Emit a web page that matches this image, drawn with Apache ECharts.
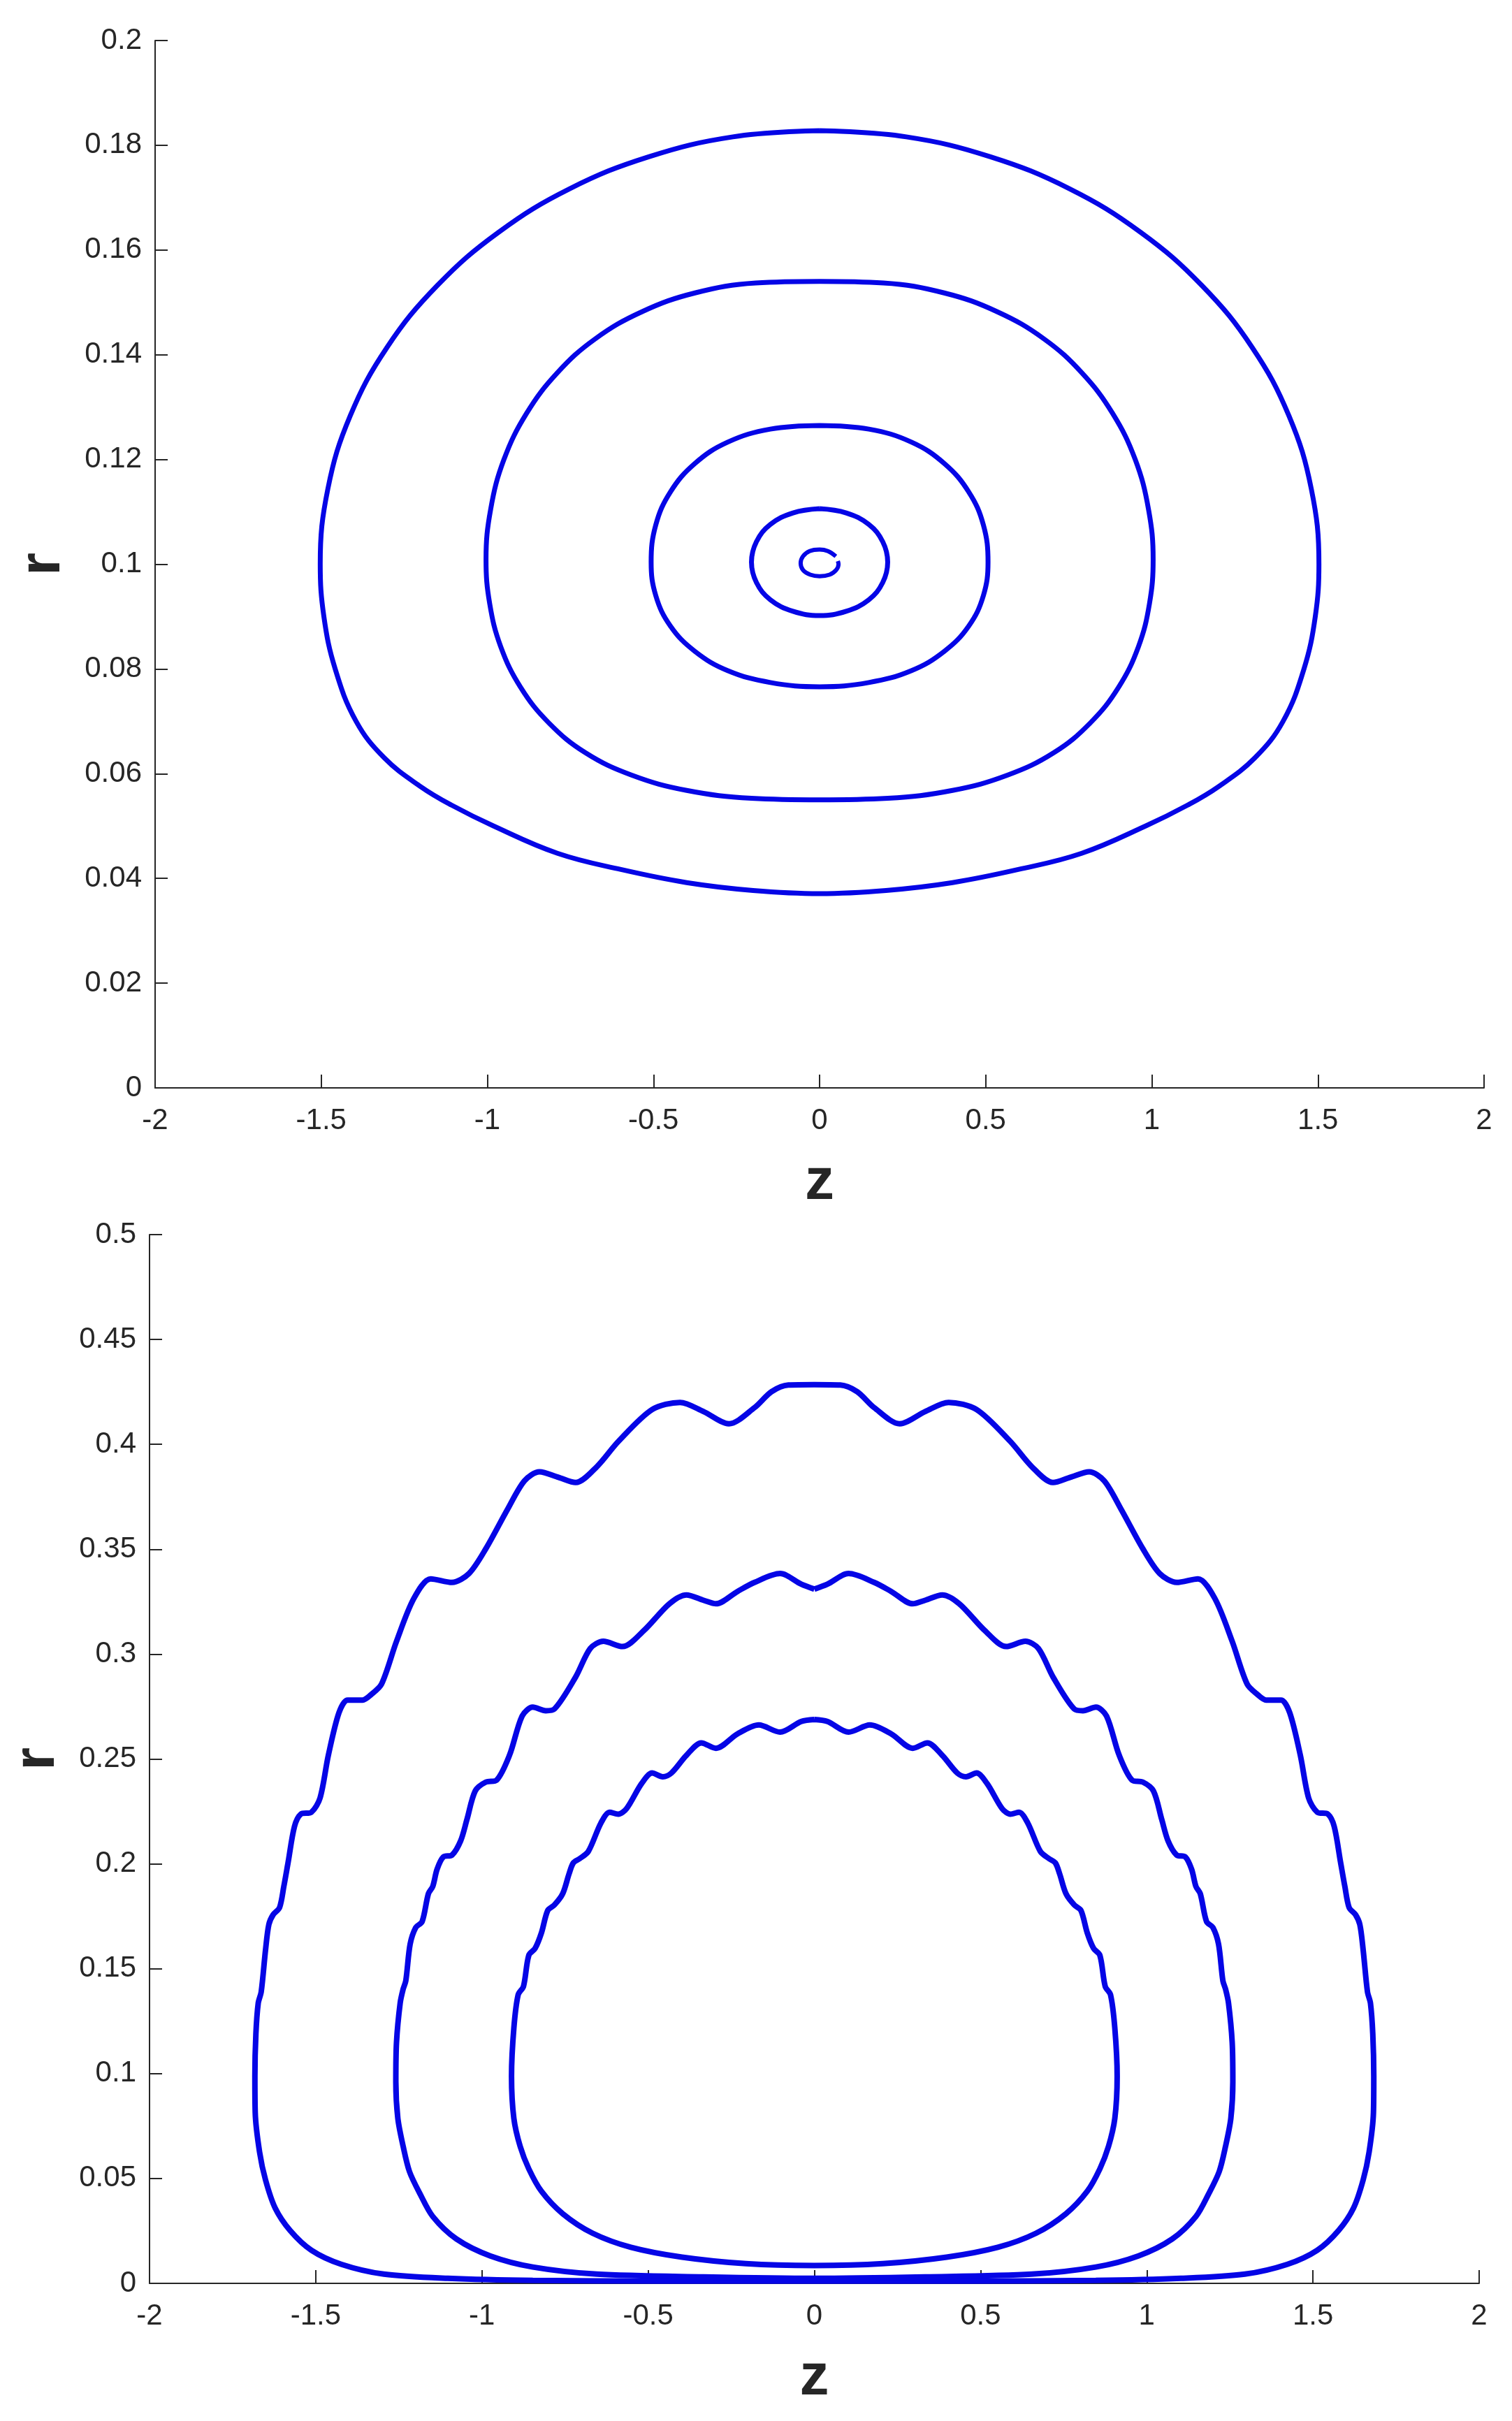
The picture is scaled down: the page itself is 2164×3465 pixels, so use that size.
<!DOCTYPE html>
<html>
<head>
<meta charset="utf-8">
<script src="https://cdn.jsdelivr.net/npm/echarts@6/dist/echarts.min.js"></script>
<style>
html,body{margin:0;padding:0;background:#fff;}
#chart{width:2164px;height:3465px;}
</style>
</head>
<body>
<div id="chart"></div>
<script>
// ---------- tick values ----------
const zTicks = [-2, -1.5, -1, -0.5, 0, 0.5, 1, 1.5, 2];
const rTicksTop = [0, 0.02, 0.04, 0.06, 0.08, 0.1, 0.12, 0.14, 0.16, 0.18, 0.2];
const rTicksBottom = [0, 0.05, 0.1, 0.15, 0.2, 0.25, 0.3, 0.35, 0.4, 0.45, 0.5];

// ---------- top panel: closed orbits [z, r] ----------
const topOrbit1 = [
  [0, 0.1828], [-0.261, 0.1816], [-0.514, 0.1778], [-0.752, 0.1717], [-0.966, 0.1634], [-1.151, 0.1532],
  [-1.302, 0.1414], [-1.413, 0.1283], [-1.480, 0.1144], [-1.503, 0.1000], [-1.492, 0.0900], [-1.458, 0.0800],
  [-1.395, 0.0700], [-1.310, 0.0630], [-1.200, 0.0575], [-1.108, 0.0540], [-0.981, 0.0500], [-0.789, 0.0448],
  [-0.598, 0.0417], [-0.400, 0.0392], [-0.200, 0.0377], [0, 0.0371],
  [0.200, 0.0377], [0.400, 0.0392], [0.598, 0.0417], [0.789, 0.0448], [0.981, 0.0500], [1.108, 0.0540],
  [1.200, 0.0575], [1.310, 0.0630], [1.395, 0.0700], [1.458, 0.0800], [1.492, 0.0900], [1.503, 0.1000],
  [1.480, 0.1144], [1.413, 0.1283], [1.302, 0.1414], [1.151, 0.1532], [0.966, 0.1634], [0.752, 0.1717],
  [0.514, 0.1778], [0.261, 0.1816], [0, 0.1828]
];
const topOrbit2 = [
  [0, 0.1540], [-0.192, 0.1537], [-0.375, 0.1518], [-0.535, 0.1482], [-0.676, 0.1430], [-0.790, 0.1365],
  [-0.882, 0.1288], [-0.950, 0.1200], [-0.990, 0.1105], [-1.004, 0.1009], [-0.993, 0.0925], [-0.960, 0.0843],
  [-0.900, 0.0765], [-0.815, 0.0697], [-0.705, 0.0640], [-0.565, 0.0597], [-0.400, 0.0568], [-0.205, 0.0553],
  [0, 0.0550],
  [0.205, 0.0553], [0.400, 0.0568], [0.565, 0.0597], [0.705, 0.0640], [0.815, 0.0697], [0.900, 0.0765],
  [0.960, 0.0843], [0.993, 0.0925], [1.004, 0.1009], [0.990, 0.1105], [0.950, 0.1200], [0.882, 0.1288],
  [0.790, 0.1365], [0.676, 0.1430], [0.535, 0.1482], [0.375, 0.1518], [0.192, 0.1537], [0, 0.1540]
];
const topOrbit3 = [
  [0, 0.1265], [-0.148, 0.1258], [-0.277, 0.1233], [-0.376, 0.1192], [-0.449, 0.1138], [-0.493, 0.1075],
  [-0.507, 0.1004], [-0.493, 0.0940], [-0.449, 0.0882], [-0.376, 0.0834], [-0.277, 0.0797], [-0.148, 0.0774],
  [0, 0.0766],
  [0.148, 0.0774], [0.277, 0.0797], [0.376, 0.0834], [0.449, 0.0882], [0.493, 0.0940], [0.507, 0.1004],
  [0.493, 0.1075], [0.449, 0.1138], [0.376, 0.1192], [0.277, 0.1233], [0.148, 0.1258], [0, 0.1265]
];
const topOrbit4 = [
  [0, 0.1106], [-0.080, 0.1098], [-0.148, 0.1076], [-0.190, 0.1043], [-0.205, 0.1004], [-0.190, 0.0965],
  [-0.148, 0.0932], [-0.080, 0.0910], [0, 0.0902],
  [0.080, 0.0910], [0.148, 0.0932], [0.190, 0.0965], [0.205, 0.1004], [0.190, 0.1043], [0.148, 0.1076],
  [0.080, 0.1098], [0, 0.1106]
];
const topOrbit5 = [
  [0.049, 0.1015], [0.025, 0.1025], [0, 0.1028], [-0.030, 0.1025], [-0.050, 0.1015], [-0.057, 0.1002],
  [-0.050, 0.0989], [-0.028, 0.0980], [0, 0.0977], [0.030, 0.0980], [0.050, 0.0989], [0.057, 0.1000], [0.055, 0.1006]
];

// ---------- bottom panel: closed orbits [z, r] ----------
const botOrbit1 = [
  [0, 0.4285], [-0.078, 0.4283], [-0.129, 0.4251], [-0.18, 0.4175], [-0.257, 0.4098], [-0.334, 0.4157],
  [-0.404, 0.4200], [-0.488, 0.4166], [-0.59, 0.4013], [-0.654, 0.3894], [-0.718, 0.3818], [-0.77, 0.3843],
  [-0.827, 0.3869], [-0.872, 0.3826], [-0.923, 0.3690], [-0.988, 0.3503], [-1.039, 0.3384], [-1.09, 0.3342],
  [-1.154, 0.3359], [-1.205, 0.3265], [-1.257, 0.3061], [-1.302, 0.2857], [-1.334, 0.2806], [-1.359, 0.2781],
  [-1.404, 0.2781], [-1.43, 0.2721], [-1.462, 0.2518], [-1.487, 0.2314], [-1.513, 0.2246], [-1.545, 0.2237],
  [-1.564, 0.2178], [-1.583, 0.2008], [-1.596, 0.1892], [-1.609, 0.1791], [-1.628, 0.1758], [-1.641, 0.1711],
  [-1.651, 0.1590], [-1.664, 0.1390], [-1.673, 0.1336], [-1.680, 0.1189], [-1.683, 0.0988], [-1.682, 0.0814],
  [-1.669, 0.0627], [-1.651, 0.0493], [-1.622, 0.0359], [-1.577, 0.0252], [-1.513, 0.0158], [-1.423, 0.0091],
  [-1.295, 0.0044], [-1.103, 0.0024], [-0.847, 0.0014], [-0.462, 0.0011], [0, 0.0011],
  [0.462, 0.0011], [0.847, 0.0014], [1.103, 0.0024], [1.295, 0.0044], [1.423, 0.0091], [1.513, 0.0158],
  [1.577, 0.0252], [1.622, 0.0359], [1.651, 0.0493], [1.669, 0.0627], [1.682, 0.0814], [1.683, 0.0988],
  [1.680, 0.1189], [1.673, 0.1336], [1.664, 0.1390], [1.651, 0.1590], [1.641, 0.1711], [1.628, 0.1758],
  [1.609, 0.1791], [1.596, 0.1892], [1.583, 0.2008], [1.564, 0.2178], [1.545, 0.2237], [1.513, 0.2246],
  [1.487, 0.2314], [1.462, 0.2518], [1.43, 0.2721], [1.404, 0.2781], [1.359, 0.2781], [1.334, 0.2806],
  [1.302, 0.2857], [1.257, 0.3061], [1.205, 0.3265], [1.154, 0.3359], [1.09, 0.3342], [1.039, 0.3384],
  [0.988, 0.3503], [0.923, 0.3690], [0.872, 0.3826], [0.827, 0.3869], [0.77, 0.3843], [0.718, 0.3818],
  [0.654, 0.3894], [0.59, 0.4013], [0.488, 0.4166], [0.404, 0.4200], [0.334, 0.4157], [0.257, 0.4098],
  [0.18, 0.4175], [0.129, 0.4251], [0.078, 0.4283], [0, 0.4285]
];
const botOrbit2 = [
  [0, 0.3310], [-0.039, 0.3333], [-0.103, 0.3384], [-0.18, 0.3342], [-0.231, 0.3299], [-0.296, 0.3240],
  [-0.334, 0.3257], [-0.385, 0.3282], [-0.436, 0.3240], [-0.513, 0.3112], [-0.577, 0.3036], [-0.635, 0.3061],
  [-0.674, 0.3027], [-0.718, 0.2891], [-0.782, 0.2738], [-0.808, 0.2730], [-0.847, 0.2747], [-0.879, 0.2705],
  [-0.917, 0.2518], [-0.956, 0.2399], [-0.988, 0.2390], [-1.02, 0.2348], [-1.045, 0.2212], [-1.064, 0.2110],
  [-1.09, 0.2042], [-1.116, 0.2033], [-1.135, 0.1974], [-1.148, 0.1892], [-1.161, 0.1858], [-1.18, 0.1724],
  [-1.199, 0.1697], [-1.216, 0.1617], [-1.229, 0.1443], [-1.237, 0.1403], [-1.246, 0.1336], [-1.257, 0.1149],
  [-1.259, 0.0961], [-1.253, 0.0787], [-1.237, 0.0653], [-1.218, 0.0533], [-1.186, 0.0426], [-1.148, 0.0319],
  [-1.077, 0.0212], [-0.975, 0.0131], [-0.847, 0.0078], [-0.654, 0.0044], [-0.334, 0.0031], [0, 0.0024],
  [0.334, 0.0031], [0.654, 0.0044], [0.847, 0.0078], [0.975, 0.0131], [1.077, 0.0212], [1.148, 0.0319],
  [1.186, 0.0426], [1.218, 0.0533], [1.237, 0.0653], [1.253, 0.0787], [1.259, 0.0961], [1.257, 0.1149],
  [1.246, 0.1336], [1.237, 0.1403], [1.229, 0.1443], [1.216, 0.1617], [1.199, 0.1697], [1.18, 0.1724],
  [1.161, 0.1858], [1.148, 0.1892], [1.135, 0.1974], [1.116, 0.2033], [1.09, 0.2042], [1.064, 0.2110],
  [1.045, 0.2212], [1.02, 0.2348], [0.988, 0.2390], [0.956, 0.2399], [0.917, 0.2518], [0.879, 0.2705],
  [0.847, 0.2747], [0.808, 0.2730], [0.782, 0.2738], [0.718, 0.2891], [0.674, 0.3027], [0.635, 0.3061],
  [0.577, 0.3036], [0.513, 0.3112], [0.436, 0.3240], [0.385, 0.3282], [0.334, 0.3257], [0.296, 0.3240],
  [0.231, 0.3299], [0.18, 0.3342], [0.103, 0.3384], [0.039, 0.3333], [0, 0.3310]
];
const botOrbit3 = [
  [0, 0.2688], [-0.039, 0.2679], [-0.103, 0.2628], [-0.167, 0.2662], [-0.231, 0.2620], [-0.296, 0.2551],
  [-0.34, 0.2577], [-0.385, 0.2517], [-0.43, 0.2433], [-0.456, 0.2415], [-0.488, 0.2433], [-0.52, 0.2382],
  [-0.565, 0.2263], [-0.59, 0.2237], [-0.616, 0.2246], [-0.642, 0.2195], [-0.68, 0.2059], [-0.706, 0.2025],
  [-0.725, 0.2005], [-0.738, 0.1952], [-0.757, 0.1858], [-0.782, 0.1804], [-0.802, 0.1778], [-0.821, 0.1671],
  [-0.84, 0.1597], [-0.859, 0.1564], [-0.875, 0.1416], [-0.891, 0.1376], [-0.904, 0.1216], [-0.911, 0.0988],
  [-0.904, 0.0787], [-0.885, 0.0653], [-0.859, 0.0546], [-0.821, 0.0439], [-0.757, 0.0332], [-0.667, 0.0239],
  [-0.552, 0.0172], [-0.398, 0.0125], [-0.206, 0.0094], [0, 0.0085],
  [0.206, 0.0094], [0.398, 0.0125], [0.552, 0.0172], [0.667, 0.0239], [0.757, 0.0332], [0.821, 0.0439],
  [0.859, 0.0546], [0.885, 0.0653], [0.904, 0.0787], [0.911, 0.0988], [0.904, 0.1216], [0.891, 0.1376],
  [0.875, 0.1416], [0.859, 0.1564], [0.84, 0.1597], [0.821, 0.1671], [0.802, 0.1778], [0.782, 0.1804],
  [0.757, 0.1858], [0.738, 0.1952], [0.725, 0.2005], [0.706, 0.2025], [0.68, 0.2059], [0.642, 0.2195],
  [0.616, 0.2246], [0.59, 0.2237], [0.565, 0.2263], [0.52, 0.2382], [0.488, 0.2433], [0.456, 0.2415],
  [0.43, 0.2433], [0.385, 0.2517], [0.34, 0.2577], [0.296, 0.2551], [0.231, 0.2620], [0.167, 0.2662],
  [0.103, 0.2628], [0.039, 0.2679], [0, 0.2688]
];

const lineBlue = '#0505e6';
const axisColor = '#262626';
const fontFam = '"Liberation Sans", Arial, Helvetica, sans-serif';

function makeX(gridIndex) {
  return {
    type: 'value', gridIndex: gridIndex, min: zTicks[0], max: zTicks[zTicks.length - 1], interval: 0.5,
    name: 'z', nameLocation: 'middle', nameGap: 94,
    nameTextStyle: { fontSize: 84, fontWeight: 'bold', color: axisColor, fontFamily: fontFam },
    axisLine: { show: true, onZero: false, lineStyle: { color: axisColor, width: 2 } },
    axisTick: { show: true, inside: true, length: 19, lineStyle: { color: axisColor, width: 2 } },
    axisLabel: { fontSize: 42, color: axisColor, fontFamily: fontFam, margin: 26 },
    splitLine: { show: false }
  };
}
function makeY(gridIndex, ticks) {
  return {
    type: 'value', gridIndex: gridIndex, min: ticks[0], max: ticks[ticks.length - 1],
    interval: ticks[1] - ticks[0],
    name: 'r', nameLocation: 'middle', nameGap: 118, nameRotate: 90,
    nameTextStyle: { fontSize: 84, fontWeight: 'bold', color: axisColor, fontFamily: fontFam },
    axisLine: { show: true, onZero: false, lineStyle: { color: axisColor, width: 2 } },
    axisTick: { show: true, inside: true, length: 18, lineStyle: { color: axisColor, width: 2 } },
    axisLabel: { fontSize: 42, color: axisColor, fontFamily: fontFam, margin: 19,
      formatter: function (v) { return String(Math.round(v * 1000) / 1000); } },
    splitLine: { show: false }
  };
}
function orbit(data, gi, w, sm) {
  return {
    type: 'line', xAxisIndex: gi, yAxisIndex: gi, data: data, showSymbol: false, symbol: 'none',
    smooth: sm, lineStyle: { color: lineBlue, width: w }, silent: true, animation: false
  };
}

const chart = echarts.init(document.getElementById('chart'), null, { renderer: 'canvas', width: 2164, height: 3465 });
chart.setOption({
  backgroundColor: '#ffffff',
  animation: false,
  grid: [
    { left: 222, right: 40, top: 58, height: 1499 },
    { left: 214, right: 47, top: 1767, height: 1501 }
  ],
  xAxis: [makeX(0), makeX(1)],
  yAxis: [makeY(0, rTicksTop), makeY(1, rTicksBottom)],
  series: [
    orbit(topOrbit1, 0, 7, 0.4), orbit(topOrbit2, 0, 7, 0.4), orbit(topOrbit3, 0, 7, 0.4),
    orbit(topOrbit4, 0, 7, 0.4), orbit(topOrbit5, 0, 6, 0.4),
    orbit(botOrbit1, 1, 8, 0.3), orbit(botOrbit2, 1, 8, 0.3), orbit(botOrbit3, 1, 8, 0.3)
  ]
});
</script>
</body>
</html>
